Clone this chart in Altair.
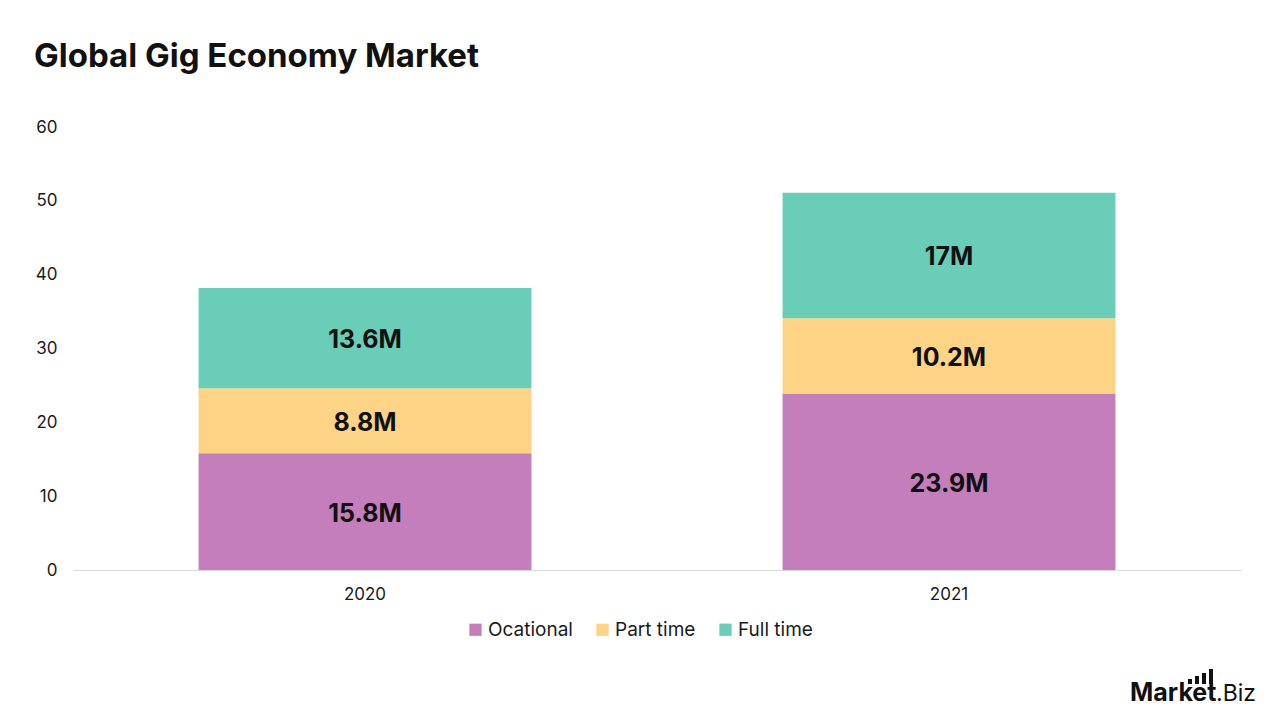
import altair as alt
import pandas as pd

# Gig workforce by engagement type, millions
years = ["2020", "2021"]
segments = ["Ocational", "Part time", "Full time"]
ocational = [15.8, 23.9]
part_time = [8.8, 10.2]
full_time = [13.6, 17.0]
colors = ["#C37EBB", "#FDD485", "#69CDB7"]
y_ticks = [0, 10, 20, 30, 40, 50, 60]

rows = []
for i, yr in enumerate(years):
    for k, (seg, vals) in enumerate(zip(segments, [ocational, part_time, full_time])):
        rows.append({"year": yr, "segment": seg, "order": k, "value": vals[i]})
df = pd.DataFrame(rows)

FONT = "Inter"
TEXT = "#1a1a1a"

x_enc = alt.X(
    "year:N",
    title=None,
    sort=years,
    scale=alt.Scale(paddingInner=0.43, paddingOuter=0.215),
    axis=alt.Axis(
        labelAngle=0, labelFontSize=17, labelFont=FONT, labelColor=TEXT,
        labelPadding=16, ticks=False, domainColor="#d9d9d9", domainWidth=1,
    ),
)

bars = alt.Chart(df).mark_bar().encode(
    x=x_enc,
    y=alt.Y(
        "value:Q",
        stack="zero",
        title=None,
        scale=alt.Scale(domain=[0, 60], nice=False),
        axis=alt.Axis(
            values=y_ticks, grid=False, domain=False, ticks=False,
            labelFontSize=17, labelFont=FONT, labelColor=TEXT, labelPadding=16,
        ),
    ),
    color=alt.Color(
        "segment:N",
        scale=alt.Scale(domain=segments, range=colors),
        legend=alt.Legend(
            title=None, orient="none", direction="horizontal",
            legendX=393, legendY=493, symbolType="square", symbolSize=150,
            symbolStrokeWidth=0, labelFontSize=19, labelFont=FONT,
            labelColor=TEXT, columnPadding=20, symbolOffset=0, labelOffset=3,
        ),
    ),
    order=alt.Order("order:Q"),
)

labels = (
    alt.Chart(df)
    .transform_stack(
        stack="value", groupby=["year"], as_=["v0", "v1"],
        sort=[alt.SortField("order", order="ascending")],
    )
    .transform_calculate(mid="(datum.v0 + datum.v1) / 2", label="datum.value + 'M'")
    .mark_text(fontSize=25, fontWeight="bold", font=FONT, color="#111111", dy=2)
    .encode(x=alt.X("year:N", sort=years), y=alt.Y("mid:Q"), text="label:N")
)

# brand mark in the lower right corner
logo_df = pd.DataFrame({"a": ["Market"], "b": [".Biz"]})
logo_a = alt.Chart(logo_df).mark_text(
    align="left", baseline="alphabetic", fontSize=25, fontWeight="bold", font=FONT, color="#111111"
).encode(x=alt.value(1057), y=alt.value(574), text="a:N")
logo_b = alt.Chart(logo_df).mark_text(
    align="left", baseline="alphabetic", fontSize=23, font=FONT, color="#111111"
).encode(x=alt.value(1143), y=alt.value(574), text="b:N")
icon = [
    alt.Chart(logo_df).mark_rect(color="#111111").encode(
        x=alt.value(x0), x2=alt.value(x0 + 4), y=alt.value(top), y2=alt.value(557)
    )
    for x0, top in [(1115, 552), (1122, 549), (1129, 546), (1136, 542)]
]

chart = (
    alt.layer(bars, labels, logo_a, logo_b, *icon)
    .properties(
        width=1168,
        height=443,
        autosize=alt.AutoSizeParams(type="none"),
        padding={"left": 73, "top": 127, "right": 39, "bottom": 150},
        background="white",
        title=alt.TitleParams(
            "Global Gig Economy Market", anchor="start", frame="group",
            fontSize=33, fontWeight="bold", font=FONT, color="#111111",
            dx=-39, offset=18, baseline="alphabetic",
        ),
    )
    .configure_view(stroke=None)
)

chart.save("out.html", embed_options={"renderer": "svg", "actions": False})
